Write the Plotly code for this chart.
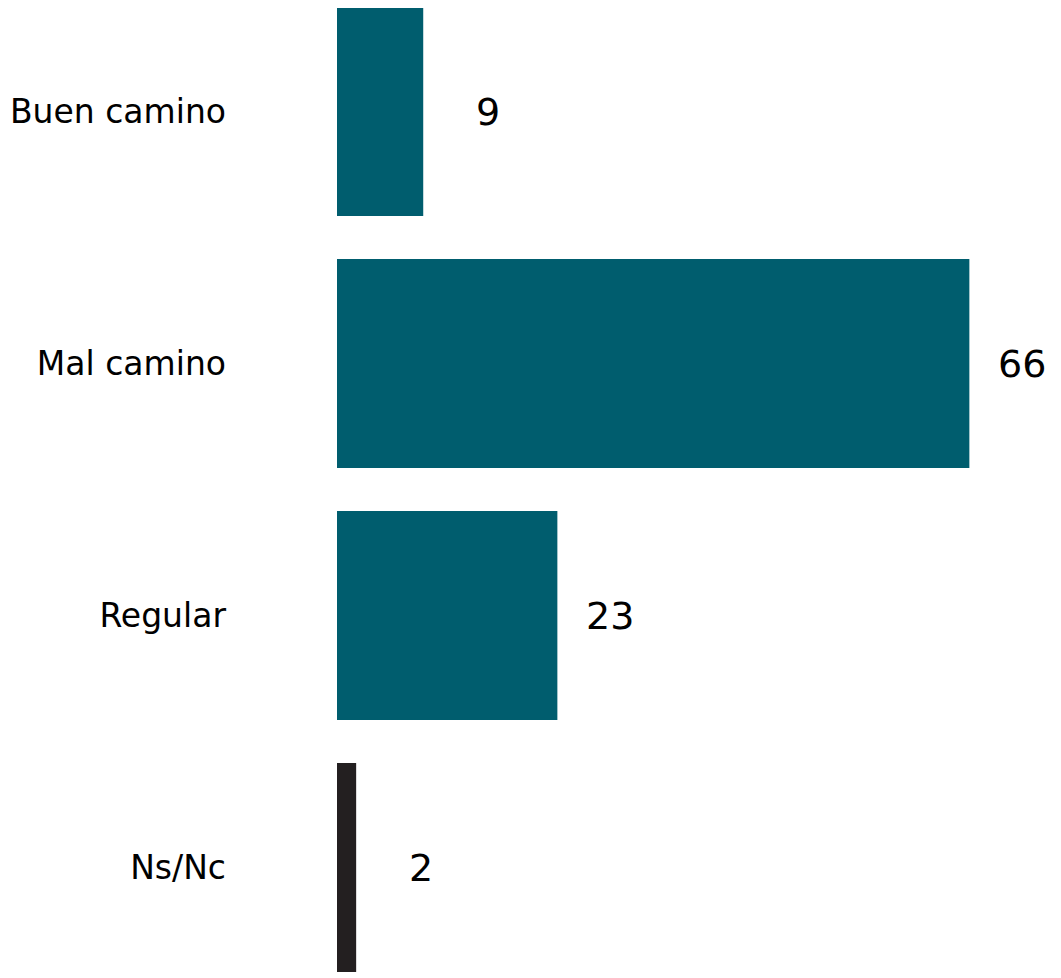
import plotly.graph_objects as go

categories = ["Buen camino", "Mal camino", "Regular", "Ns/Nc"]
values = [9, 66, 23, 2]
colors = ["#005D6E", "#005D6E", "#005D6E", "#231F20"]

fig = go.Figure(go.Bar(
    x=values, y=categories, orientation="h",
    marker=dict(color=colors, line_width=0),
    hoverinfo="skip",
))

for cat, v in zip(categories, values):
    fig.add_annotation(x=v, y=cat, text=str(v), showarrow=False,
                       xanchor="right", xshift=79,
                       font=dict(family="DejaVu Sans", size=38, color="#000000"))

fig.update_layout(
    width=1061, height=978,
    margin=dict(l=329, r=0, t=0, b=0),
    paper_bgcolor="white", plot_bgcolor="white",
    bargap=0.171, showlegend=False,
)
fig.update_xaxes(range=[0, 76.4], visible=False)
fig.update_yaxes(categoryorder="array", categoryarray=categories,
                 range=[3.470, -0.4107], showgrid=False, zeroline=False,
                 showline=False, ticks="", ticklabelstandoff=110,
                 tickfont=dict(family="DejaVu Sans", size=33, color="#000000"))

fig.write_html("out.html")
